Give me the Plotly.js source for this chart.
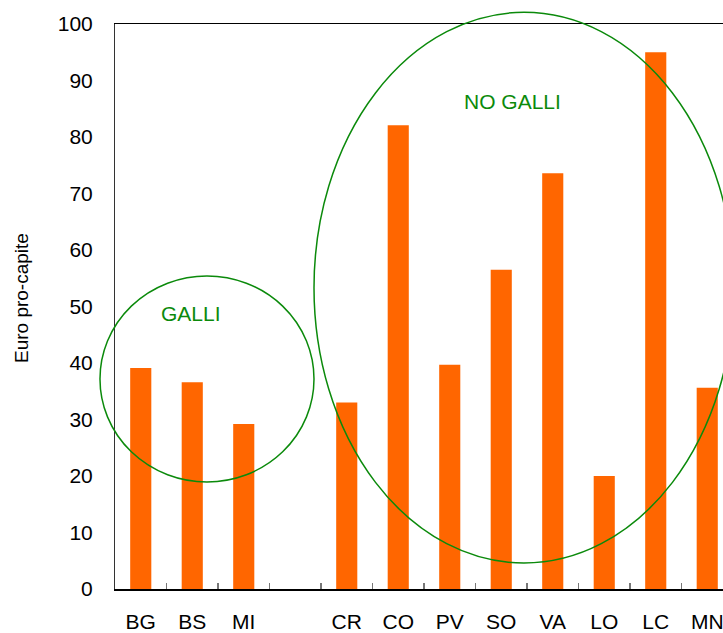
<!DOCTYPE html>
<html>
<head>
<meta charset="utf-8">
<script src="https://cdn.plot.ly/plotly-3.0.1.min.js"></script>
<style>html,body{margin:0;padding:0;background:#fff;}#chart{width:723px;height:633px;}</style>
</head>
<body>
<div id="chart"></div>
<script>
const categories = ["BG", "BS", "MI", " ", "CR", "CO", "PV", "SO", "VA", "LO", "LC", "MN"];
const values = [39.1, 36.6, 29.2, null, 33.0, 82.1, 39.7, 56.5, 73.6, 20.0, 95.0, 35.6];
const yTicks = [0, 10, 20, 30, 40, 50, 60, 70, 80, 90, 100];
const groupLabels = ["GALLI", "NO GALLI"];
const yTitle = "Euro pro-capite";

const font = "Liberation Sans, Arial, sans-serif";
const green = "#0b8a0b";

const data = [{
  type: "bar",
  x: categories,
  y: values,
  marker: {color: "#ff6600"},
  hoverinfo: "x+y"
}];

const layout = {
  width: 723, height: 633,
  margin: {l: 115, r: 0, t: 24, b: 44},
  paper_bgcolor: "#fff", plot_bgcolor: "#fff",
  showlegend: false,
  bargap: 0.59,
  font: {family: font, size: 21, color: "#000"},
  xaxis: {
    type: "category",
    range: [-0.5, 11.306],
    showline: true, linecolor: "#000", linewidth: 1.5, mirror: true,
    ticks: "inside", tickson: "boundaries", ticklen: 6, tickcolor: "#777", tickwidth: 1.5,
    showgrid: false, zeroline: false,
    ticklabelstandoff: 13,
    tickfont: {family: font, size: 21, color: "#000"}
  },
  yaxis: {
    range: [0, 100],
    tickvals: yTicks,
    ticktext: yTicks.map(String),
    showline: true, linecolor: "#333", linewidth: 1,
    ticks: "", showgrid: false, zeroline: false,
    ticklabelstandoff: 17,
    tickfont: {family: font, size: 21, color: "#000"}
  },
  shapes: [
    {type: "circle", xref: "paper", yref: "paper",
     x0: -0.0247, x1: 0.3273, y0: 0.1894, y1: 0.554,
     line: {color: green, width: 1.5}},
    {type: "circle", xref: "paper", yref: "paper",
     x0: 0.3273, x1: 1.018, y0: 0.046, y1: 1.0207,
     line: {color: green, width: 1.5}}
  ],
  annotations: [
    {xref: "paper", yref: "paper", x: (191 - 115) / 608, y: (589 - 313) / 565,
     xanchor: "center", yanchor: "middle",
     text: groupLabels[0], showarrow: false, font: {family: font, size: 21, color: green}},
    {xref: "paper", yref: "paper", x: (512 - 115) / 608, y: (589 - 101) / 565,
     xanchor: "center", yanchor: "middle",
     text: groupLabels[1], showarrow: false, font: {family: font, size: 21, color: green}},
    {xref: "paper", yref: "paper", x: (21 - 115) / 608, y: (589 - 298) / 565,
     xanchor: "center", yanchor: "middle", textangle: -90,
     text: yTitle, showarrow: false, font: {family: font, size: 19, color: "#000"}}
  ]
};

Plotly.newPlot("chart", data, layout, {displayModeBar: false, staticPlot: true});
</script>
</body>
</html>
